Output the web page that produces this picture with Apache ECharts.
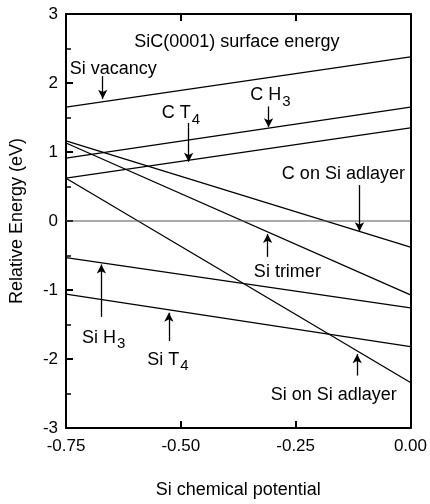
<!DOCTYPE html>
<html>
<head>
<meta charset="utf-8">
<script src="https://cdn.jsdelivr.net/npm/echarts@6/dist/echarts.min.js"></script>
<style>
  html, body { margin: 0; padding: 0; background: #fff; }
  #main { width: 430px; height: 504px; }
</style>
</head>
<body>
<div id="main"></div>
<script>
// Si chemical potential at the two ends of every line
var xEnds = [-0.75, 0];

// relative energies (eV) at x = -0.75 and x = 0
var siVacancy = [1.65, 2.38];
var cH3 = [0.91, 1.65];
var cT4 = [0.62, 1.35];
var cOnSiAdlayer = [1.16, -0.38];
var siTrimer = [1.13, -1.07];
var siOnSiAdlayer = [0.62, -2.34];
var siH3 = [-0.53, -1.26];
var siT4 = [-1.06, -1.82];
var zeroRef = [0, 0];

// labels with arrows, in data coordinates
var notes = [
    { text: 'Si vacancy', at: [-0.647, 2.20], from: [-0.670, 2.10], to: [-0.670, 1.77] },
    { text: 'C T{sub|4}', at: [-0.500, 1.56], from: [-0.483, 1.42], to: [-0.483, 0.86] },
    { text: 'C H{sub|3}', at: [-0.305, 1.82], from: [-0.309, 1.66], to: [-0.309, 1.36] },
    { text: 'C on Si adlayer', at: [-0.146, 0.68], from: [-0.111, 0.52], to: [-0.111, -0.15] },
    { text: 'Si trimer', at: [-0.268, -0.74], from: [-0.311, -0.52], to: [-0.311, -0.19] },
    { text: 'Si H{sub|3}', at: [-0.668, -1.70], from: [-0.673, -1.39], to: [-0.673, -0.63] },
    { text: 'Si T{sub|4}', at: [-0.528, -2.01], from: [-0.526, -1.74], to: [-0.526, -1.33] },
    { text: 'Si on Si adlayer', at: [-0.167, -2.52], from: [-0.116, -2.24], to: [-0.116, -1.93] }
];
var titleText = 'SiC(0001) surface energy';
var titleAt = [-0.378, 2.60];

var chartDom = document.getElementById('main');
var myChart = echarts.init(chartDom);
var option;

var font = 'Liberation Sans, Arial, Helvetica, sans-serif';

function pairs(ys) {
    return xEnds.map(function (x, i) { return [x, ys[i]]; });
}

function lineSeries(name, ys) {
    return {
        name: name,
        type: 'line',
        data: pairs(ys),
        symbol: 'none',
        silent: true,
        lineStyle: { color: '#000', width: 1.3 }
    };
}

var labelPoints = notes.map(function (n) {
    return {
        coord: n.at,
        label: { formatter: n.text }
    };
});
labelPoints.push({ coord: titleAt, label: { formatter: titleText } });

var arrows = notes.map(function (n) {
    return [{ coord: n.from }, { coord: n.to }];
});

function axisLineStyle() {
    return { onZero: false, show: true, lineStyle: { color: '#000', width: 2 } };
}
function tickStyle() {
    return { show: true, inside: true, length: 7, lineStyle: { color: '#000', width: 2 } };
}

option = {
    animation: false,
    textStyle: { fontFamily: font, color: '#000' },
    grid: { left: 63, right: 19, top: 14, bottom: 67 },
    xAxis: [
        {
            type: 'value',
            min: -0.75,
            max: 0,
            interval: 0.25,
            name: 'Si chemical potential',
            nameLocation: 'middle',
            nameGap: 53,
            nameTextStyle: { fontSize: 18, color: '#000', fontFamily: font },
            axisLine: axisLineStyle(),
            axisTick: tickStyle(),
            axisLabel: {
                fontSize: 17, color: '#000', margin: 10, fontFamily: font,
                formatter: function (v) { return v.toFixed(2); }
            },
            splitLine: { show: false }
        },
        {
            type: 'value',
            position: 'top',
            min: -0.75,
            max: 0,
            interval: 0.25,
            axisLine: axisLineStyle(),
            axisTick: tickStyle(),
            axisLabel: { show: false },
            splitLine: { show: false }
        }
    ],
    yAxis: [
        {
            type: 'value',
            position: 'left',
            min: -3,
            max: 3,
            interval: 1,
            name: 'Relative Energy (eV)',
            nameLocation: 'middle',
            nameGap: 40,
            nameTextStyle: { fontSize: 18, color: '#000', fontFamily: font },
            axisLine: axisLineStyle(),
            axisTick: tickStyle(),
            minorTick: { show: true, splitNumber: 2, length: 5, lineStyle: { color: '#000', width: 1.5 } },
            axisLabel: { fontSize: 17, color: '#000', margin: 8, fontFamily: font },
            splitLine: { show: false },
            minorSplitLine: { show: false }
        },
        {
            type: 'value',
            position: 'right',
            min: -3,
            max: 3,
            interval: 1,
            axisLine: axisLineStyle(),
            axisTick: { show: false },
            axisLabel: { show: false },
            splitLine: { show: false }
        }
    ],
    series: [
        lineSeries('Si vacancy', siVacancy),
        lineSeries('C H3', cH3),
        lineSeries('C T4', cT4),
        lineSeries('C on Si adlayer', cOnSiAdlayer),
        lineSeries('Si trimer', siTrimer),
        lineSeries('Si on Si adlayer', siOnSiAdlayer),
        lineSeries('Si H3', siH3),
        lineSeries('Si T4', siT4),
        {
            name: 'zero',
            type: 'line',
            data: pairs(zeroRef),
            symbol: 'none',
            silent: true,
            lineStyle: { color: '#555', width: 1 },
            markLine: {
                silent: true,
                symbol: ['none', 'arrow'],
                symbolSize: [7, 9],
                label: { show: false },
                lineStyle: { color: '#000', width: 1.3, type: 'solid' },
                data: arrows
            },
            markPoint: {
                silent: true,
                symbol: 'circle',
                symbolSize: 0,
                itemStyle: { color: 'transparent' },
                label: {
                    show: true,
                    position: 'inside',
                    color: '#000',
                    fontSize: 18,
                    fontFamily: font,
                    rich: {
                        sub: { fontSize: 15, padding: [12, 0, 0, 1], fontFamily: font, color: '#000' }
                    }
                },
                data: labelPoints
            }
        }
    ]
};

option && myChart.setOption(option);
</script>
</body>
</html>
